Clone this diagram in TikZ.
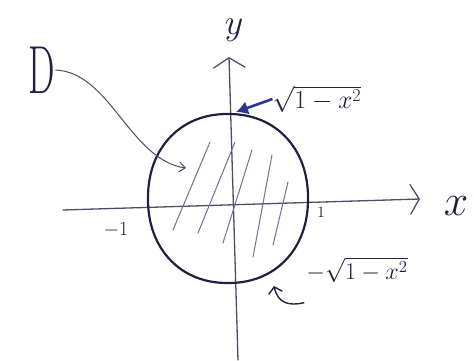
\RequirePackage{fix-cm}
\documentclass[tikz,border=0pt]{standalone}
\usetikzlibrary{positioning,arrows.meta}
\definecolor{Inknavy}{HTML}{1E2140}
\definecolor{Inkgrey}{HTML}{4B4F6A}
\definecolor{Inkhatch}{HTML}{6E7290}
\definecolor{Inkblue}{HTML}{2B3592}
\tikzset{
  axisline/.style={Inkgrey,line width=1.3pt,line cap=round},
  hatchline/.style={Inkhatch,line width=1pt,line cap=round},
  lab/.style={Inknavy,inner sep=0pt},
}
\begin{document}
\begin{tikzpicture}[x=1pt,y=-1pt]
  \useasboundingbox (0,0) rectangle (474,360);
  % axes
  \coordinate (xl) at (63,210);
  \coordinate (xr) at (420,199);
  \coordinate (yb) at (238,360);
  \coordinate (yt) at (229,57);
  \draw[axisline,-{Straight Barb[length=9pt,width=30pt]}] (xl) -- (xr);
  \draw[axisline,-{Straight Barb[length=10pt,width=32pt]}] (yb) -- (yt);
  % disk
  \draw[Inknavy,line width=2.2pt] plot[smooth cycle,domain=1:356,samples=72]
    ({228+80*sign(cos(\x))*abs(cos(\x))^0.93},
     {198.5+84.5*sign(sin(\x))*abs(sin(\x))^0.93});
  \foreach \a/\b/\c/\d in {210/142/173/230, 235/142/198/233, 252/150/223/243,
      272/155/253/257, 288/182/273/245}{
    \draw[hatchline] (\a,\b) -- (\c,\d);}
  \coordinate (top) at (236,112);
  \coordinate (inner) at (186,168);
  \coordinate (lowr) at (274,286);
  % labels
  \node[lab,font=\fontsize{68}{68}\selectfont] (dlab) at (42,70)
    {\scalebox{0.55}[1]{$\mathrm{D}$}};
  \node[lab,font=\fontsize{36}{36}\selectfont] (ylab) at (234,30) {$y$};
  \node[lab,font=\fontsize{44}{44}\selectfont] (xlab) at (456,206) {$x$};
  \node[lab,font=\fontsize{20}{20}\selectfont] (mone) at (116,230) {$-1$};
  \node[lab,font=\fontsize{16}{16}\selectfont] (pone) at (321,212) {$1$};
  \node[lab,font=\fontsize{26}{26}\selectfont] (toplab) at (317,99) {$\sqrt{1-x^2}$};
  \node[lab,font=\fontsize{24}{24}\selectfont] (botlab) at (357,270) {$-\sqrt{1-x^2}$};
  % connectors
  \draw[Inkgrey,line width=1pt,-{Straight Barb[length=6pt,width=10pt]}]
    (dlab.east) .. controls (110,72) and (130,160) .. (inner);
  \draw[Inkblue,line width=2.6pt,-{Latex[length=12pt,width=14pt]}]
    (toplab.west) -- (top);
  \draw[Inknavy,line width=1.4pt,-{Straight Barb[length=6pt,width=14pt]}]
    (botlab.south west) ++(-2,20) .. controls (290,306) and (278,304) .. (lowr);
\end{tikzpicture}
\end{document}
